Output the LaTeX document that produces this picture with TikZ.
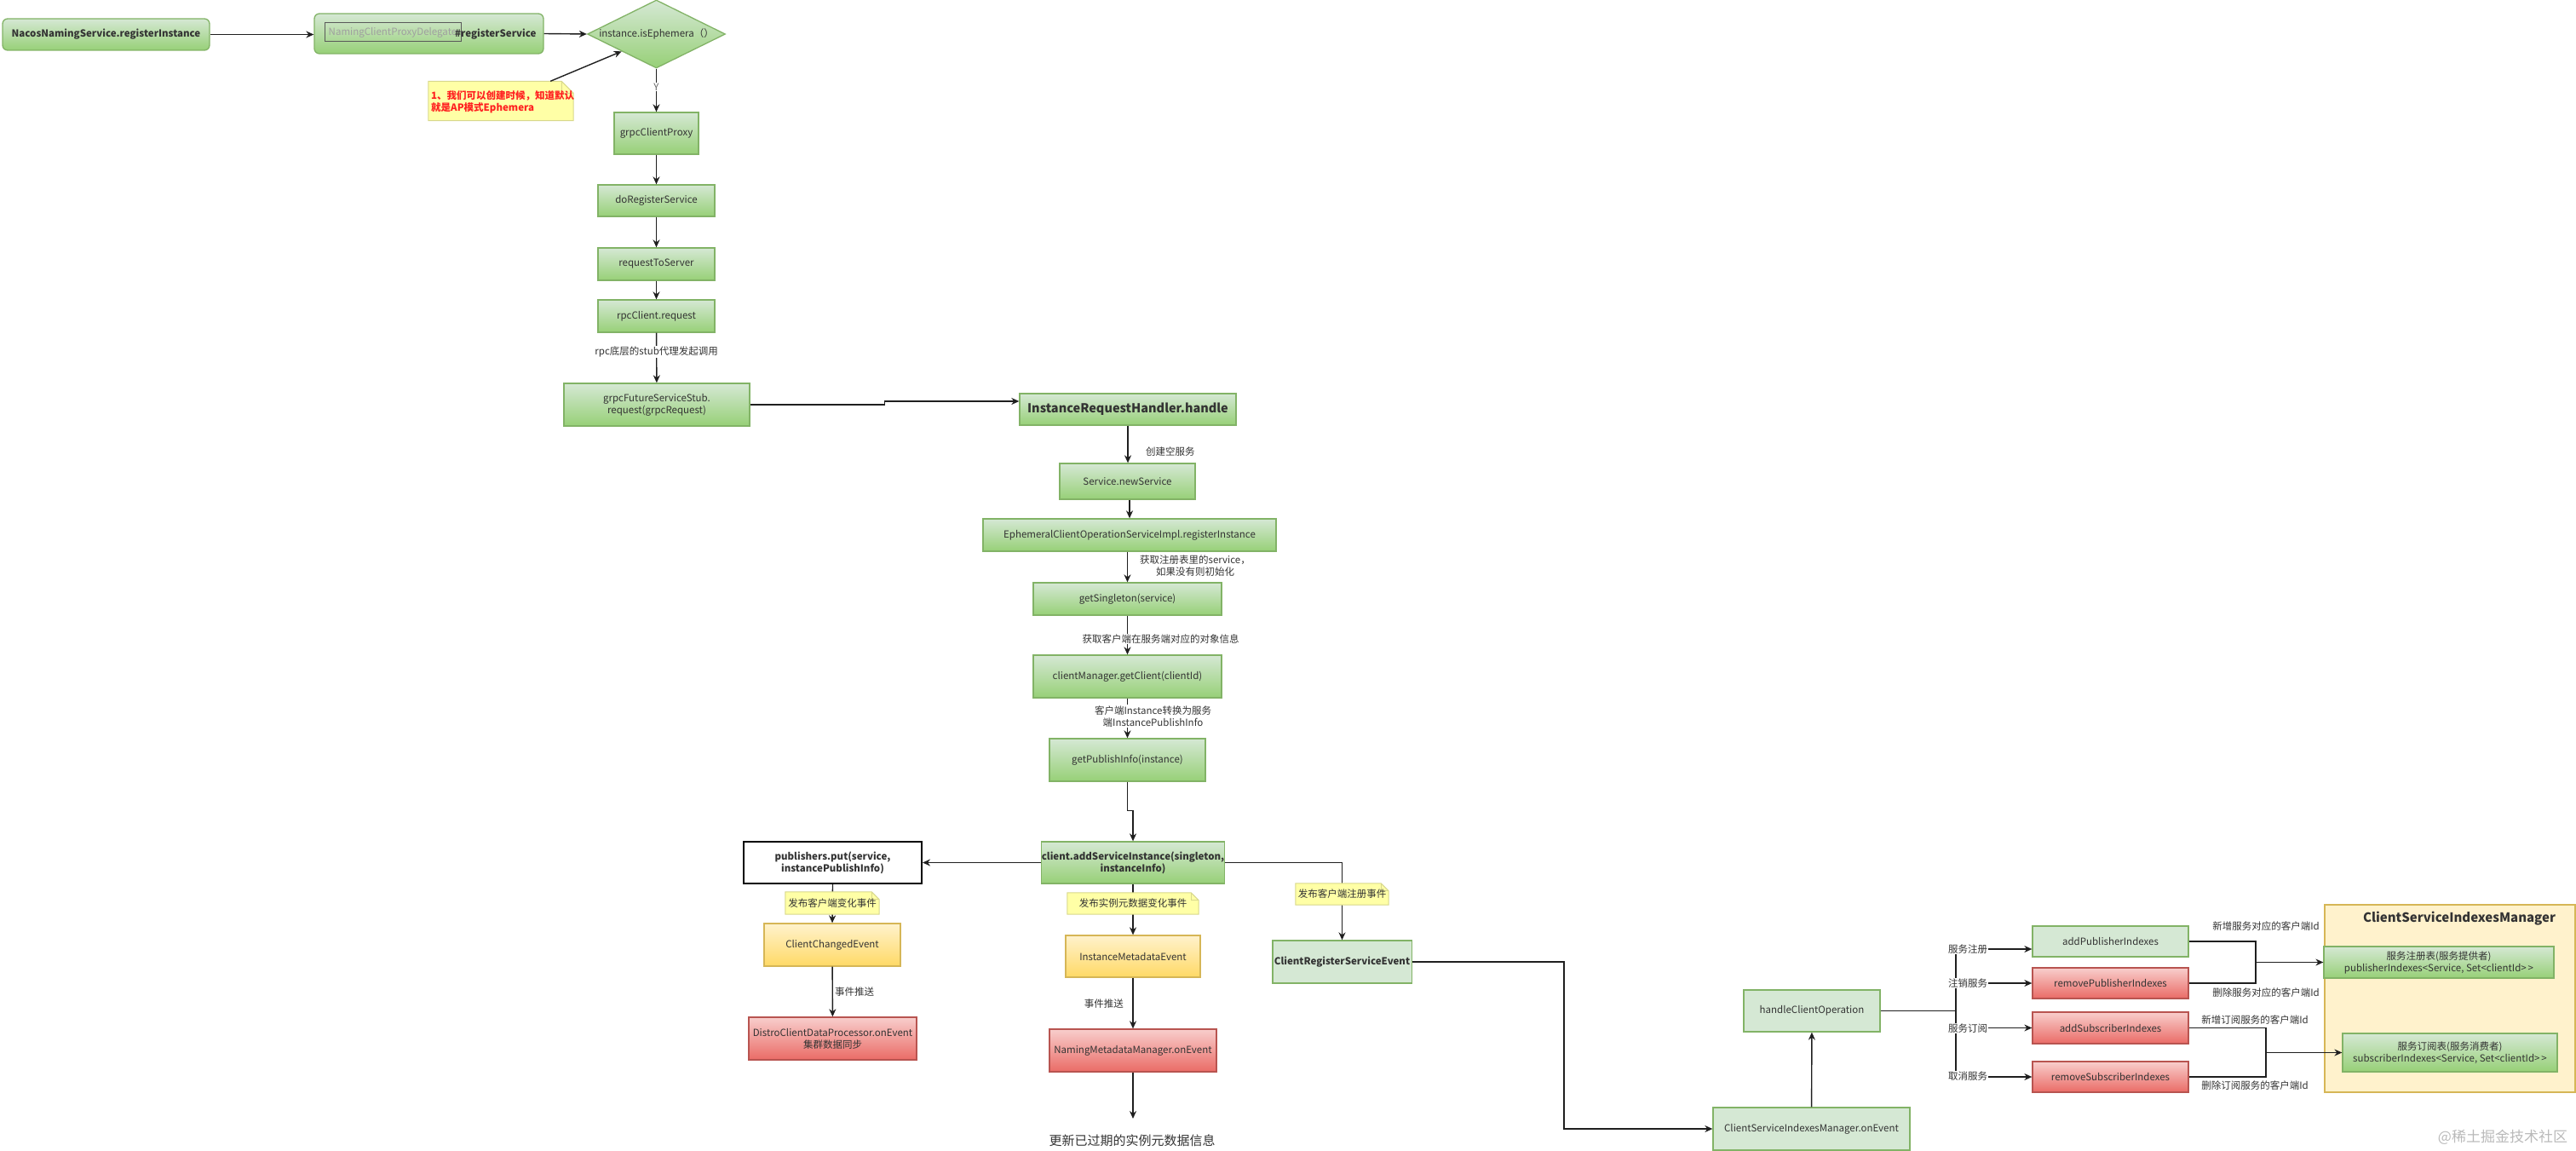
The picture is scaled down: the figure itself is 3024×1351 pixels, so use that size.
\documentclass[tikz,border=0pt]{standalone}
\usepackage{fontspec}
\setmainfont{Noto Sans CJK SC}
\usetikzlibrary{arrows.meta,shapes.geometric,calc}
\definecolor{gstroke}{HTML}{82B366}
\definecolor{glight}{HTML}{D5E8D4}
\definecolor{gdark}{HTML}{97D077}
\definecolor{ystroke}{HTML}{D6B656}
\definecolor{ylight}{HTML}{FFF2CC}
\definecolor{ydark}{HTML}{FFD966}
\definecolor{rstroke}{HTML}{B85450}
\definecolor{rlight}{HTML}{F8CECC}
\definecolor{rdark}{HTML}{EA6B66}
\definecolor{notefill}{HTML}{FFFFA6}
\definecolor{notedraw}{HTML}{D8D88C}
\definecolor{txtc}{HTML}{333333}
\definecolor{notered}{HTML}{FF2020}
\newcommand\notebox[6]{%
  \path (#2) node[minimum width=#3pt, minimum height=#4pt, inner sep=0pt] (#1) {};
  \filldraw[fill=notefill, draw=notedraw, line width=1pt] (#1.south west) -- (#1.north west) -- ([xshift=-#5pt]#1.north east) -- ([yshift=-#5pt]#1.north east) -- (#1.south east) -- cycle;
  \draw[draw=notedraw, line width=1pt] ([xshift=-#5pt]#1.north east) -- ([xshift=-#5pt,yshift=-#5pt]#1.north east) -- ([yshift=-#5pt]#1.north east);
  \node[lab] at (#1) {#6};}
\tikzset{
  base/.style={rectangle, inner sep=2pt, align=center, text=txtc, font=\fontsize{11.5}{14}\selectfont, line width=1.3pt},
  bold/.style={font=\fontsize{11.5}{14}\selectfont\bfseries},
  gbox/.style={base, draw=gstroke, top color=glight, bottom color=gdark},
  lgbox/.style={base, draw=gstroke, fill=glight},
  ybox/.style={base, draw=ystroke, top color=ylight, bottom color=ydark},
  rbox/.style={base, draw=rstroke, top color=rlight, bottom color=rdark},
  sz/.style 2 args={minimum width=#1pt, minimum height=#2pt},
  arr/.style={-{Stealth[length=9pt,width=8pt]}, line width=1.4pt, draw=black!88},
  ln/.style={line width=1.4pt, draw=black!88},
  lab/.style={font=\fontsize{11.5}{14}\selectfont, text=txtc, align=center, inner sep=1pt},
  labw/.style={lab, fill=white},
}
\begin{document}
\begin{tikzpicture}[x=1pt,y=-1pt]
\useasboundingbox (0,0) rectangle (3024,1351);
% ---------- top row ----------
\node[gbox, bold, rounded corners=6pt, sz={243}{37}] (nacos) at (124.5,40.5) {NacosNamingService.registerInstance};
\node[gbox, rounded corners=6pt, sz={269}{47}] (proxy) at (503.5,39.5) {};
\node[base, draw=black!65, line width=1pt, sz={160}{22}, text=gray!75] (pinner) at (461,38) {NamingClientProxyDelegate};
\node[bold, text=txtc, anchor=west, inner sep=0pt] (preg) at (534,40) {\#registerService};
\node[shape=diamond, draw=gstroke, line width=1.3pt, top color=glight, bottom color=gdark, minimum width=162pt, minimum height=80pt, inner sep=0pt] (dia) at (770.5,40) {};
\node[lab] (diat) at (dia) {instance.isEphemera（）};
% ---------- left column ----------
\node[gbox, sz={99}{49}] (gcp) at (770.5,156.5) {grpcClientProxy};
\node[gbox, sz={137}{37}] (doreg) at (770.5,235.5) {doRegisterService};
\node[gbox, sz={137}{38}] (rts) at (770.5,310) {requestToServer};
\node[gbox, sz={137}{38}] (rpcreq) at (770.5,371) {rpcClient.request};
\node[gbox, sz={218}{50}] (fut) at (771,475) {grpcFutureServiceStub.\\request(grpcRequest)};
% ---------- server column ----------
\node[gbox, sz={254}{37}, font=\fontsize{14.5}{18}\selectfont\bfseries] (irh) at (1324,480.5) {InstanceRequestHandler.handle};
\node[gbox, sz={159}{42}] (newsvc) at (1323.5,565) {Service.newService};
\node[gbox, sz={344}{38}] (eph) at (1326,628) {EphemeralClientOperationServiceImpl.registerInstance};
\node[gbox, sz={221}{38}] (single) at (1323.5,703) {getSingleton(service)};
\node[gbox, sz={221}{50}] (cm) at (1323.5,794) {clientManager.getClient(clientId)};
\node[gbox, sz={183}{50}] (gpi) at (1323.5,892) {getPublishInfo(instance)};
\node[gbox, bold, sz={208}{49}, inner sep=0pt] (add) at (1330,1012.5) {client.addServiceInstance(singleton,\\instanceInfo)};
\node[base, bold, draw=black, line width=2pt, fill=white, sz={209}{49}] (pub) at (977.5,1012.5) {publishers.put(service,\\instancePublishInfo)};
\node[ybox, sz={160}{50}] (cce) at (977,1109) {ClientChangedEvent};
\node[rbox, sz={197}{50}, inner sep=0pt] (distro) at (977.5,1219) {DistroClientDataProcessor.onEvent\\集群数据同步};
\node[ybox, sz={158}{49}] (ime) at (1330,1122.5) {InstanceMetadataEvent};
\node[rbox, sz={196}{50}, inner sep=0pt] (nmm) at (1330,1233) {NamingMetadataManager.onEvent};
\coordinate (endpt) at (1330,1313);
\node[lab, font=\fontsize{15}{18}\selectfont] (upd) at (1329,1339) {更新已过期的实例元数据信息};
\node[lgbox, bold, sz={159}{50}] (crse) at (1575.5,1129) {ClientRegisterServiceEvent};
\node[lgbox, sz={231}{50}] (csimev) at (2126.5,1325) {ClientServiceIndexesManager.onEvent};
\node[lgbox, sz={160}{49}] (hco) at (2127,1186.5) {handleClientOperation};
% ---------- right block ----------
\node[base, draw=ystroke, fill=ylight, sz={294}{220}] (csim) at (2876,1172) {};
\node[lab, font=\fontsize{15}{18}\selectfont\bfseries] (csimt) at (2887,1078) {ClientServiceIndexesManager};
\node[gbox, sz={270}{37}, inner sep=0pt] (pidx) at (2863,1129.5) {服务注册表(服务提供者)\\publisherIndexes<Service, Set<clientId>\,{}>};
\node[gbox, sz={252}{45}, inner sep=0pt] (sidx) at (2876,1235.5) {服务订阅表(服务消费者)\\subscriberIndexes<Service, Set<clientId>\,{}>};
\node[lgbox, sz={183}{36}] (apub) at (2477.5,1105) {addPublisherIndexes};
\node[rbox, sz={183}{36}] (rpub) at (2477.5,1154) {removePublisherIndexes};
\node[rbox, sz={183}{37}] (asub) at (2477.5,1206.5) {addSubscriberIndexes};
\node[rbox, sz={183}{36}] (rsub) at (2477.5,1264) {removeSubscriberIndexes};
\coordinate (ttop) at (2296,1114);
\coordinate (tj) at (2296,1186.5);
\coordinate (tbot) at (2296,1264);
\coordinate (m1) at (2648,1129.5);
\coordinate (m2) at (2660,1235.5);
% ---------- connectors ----------
\draw[arr] (nacos.east) -- (nacos.east -| proxy.west);
\draw[arr] (proxy.east) -- (dia.west);
\draw[arr] (dia.south) -- (gcp.north) node[labw, pos=0.42, text=gray!80!black] {Y};
\draw[arr] (gcp) -- (doreg);
\draw[arr] (doreg) -- (rts);
\draw[arr] (rts) -- (rpcreq);
\draw[arr] (rpcreq) -- (fut) node[labw, pos=0.38] {rpc底层的stub代理发起调用};
\draw[arr] (fut.east) -- ++(158,0) |- ([yshift=9.5pt]irh.west);
\draw[arr] (irh) -- (irh.south |- newsvc.north);
\node[lab, anchor=west] (l1) at (1344,530) {创建空服务};
\draw[arr] (newsvc.south -| eph.north) -- (eph.north);
\draw[arr] (single.north |- eph.south) -- (single.north);
\node[lab] (l2) at (1403,664) {获取注册表里的service，\\如果没有则初始化};
\draw[arr] (single) -- (cm) node[labw, pos=0.6, xshift=39pt] {获取客户端在服务端对应的对象信息};
\draw[arr] (cm) -- (gpi) node[labw, pos=0.45, xshift=30pt] {客户端Instance转换为服务\\端InstancePublishInfo};
\draw[arr] (gpi.south) -- ++(0,34) -| (add.north);
\draw[arr] (add.west) -- (pub.east);
\draw[arr] (pub.south) -- (cce.north);
\draw[arr] (cce) -- (distro);
\node[lab, anchor=west] (l3) at (979,1164) {事件推送};
\draw[arr] (add.south) -- (ime.north);
\draw[arr] (ime) -- (nmm);
\node[lab, anchor=east] (l4) at (1320,1178) {事件推送};
\draw[arr] (nmm.south) -- (endpt);
\draw[arr] (add.east) -| (crse.north);
\draw[arr] (crse.east) -- ++(178,0) |- (csimev.west);
\draw[arr] (csimev) -- (hco);
\draw[ln] (hco.east) -- (tj);
\draw[ln] (ttop) -- (tbot);
\draw[arr] (ttop) -- (ttop -| apub.west);
\draw[arr] (rpub.west -| ttop) -- (rpub.west);
\draw[arr] (asub.west -| ttop) -- (asub.west);
\draw[arr] (rsub.west -| ttop) -- (rsub.west);
\node[labw] at (2310,1114) {服务注册};
\node[labw] at (2310,1154) {注销服务};
\node[labw] at (2310,1207) {服务订阅};
\node[labw] at (2310,1263) {取消服务};
\draw[ln] (apub.east) -| (m1) |- (rpub.east);
\draw[arr] (m1) -- (pidx.west);
\draw[ln] (asub.east) -| (m2) |- (rsub.east);
\draw[arr] (m2) -- (sidx.west);
\node[lab] at (2660,1087) {新增服务对应的客户端Id};
\node[lab] at (2660,1165) {删除服务对应的客户端Id};
\node[lab] at (2647,1197) {新增订阅服务的客户端Id};
\node[lab] at (2647,1274) {删除订阅服务的客户端Id};
% ---------- notes ----------
\notebox{note1}{588,118.5}{170}{46}{14}{}
\node[anchor=west, align=left, inner sep=0pt, text=notered, font=\fontsize{11.5}{14}\selectfont\bfseries] (note1t) at (506,120) {1、我们可以创建时候，知道默认\\就是AP模式Ephemera};
\draw[arr] ([xshift=-27pt]note1.north east) -- (dia.south west);
\notebox{note2}{977,1060}{110}{26}{9}{发布客户端变化事件}
\notebox{note3}{1330,1060.5}{154}{25}{9}{发布实例元数据变化事件}
\notebox{note4}{1575.5,1049.5}{109}{25}{9}{发布客户端注册事件}
% watermark
\node[text=gray!55, font=\fontsize{17}{20}\selectfont] (wm) at (2938,1335) {@稀土掘金技术社区};
\end{tikzpicture}
\end{document}
